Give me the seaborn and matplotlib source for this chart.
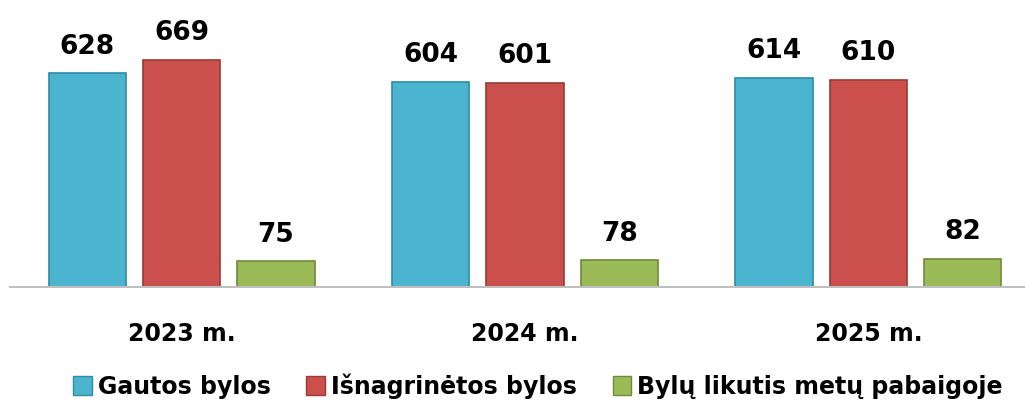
import pandas as pd
import matplotlib.pyplot as plt
import seaborn as sns

years = ['2023 m.', '2024 m.', '2025 m.']
series = ['Gautos bylos', 'Išnagrinėtos bylos', 'Bylų likutis metų pabaigoje']
gautos = [628, 604, 614]
isnagrinetos = [669, 601, 610]
likutis = [75, 78, 82]
colors = ['#4BB5CF', '#CB4F4B', '#9BBB59']
edges = ['#2E8BA5', '#963B38', '#6F8A3A']

df = pd.DataFrame({
    'year': years * 3,
    'series': [s for s in series for _ in years],
    'value': gautos + isnagrinetos + likutis,
})

sns.set_style('white')
plt.rcParams['font.family'] = ['DejaVu Sans']
plt.rcParams['text.color'] = 'black'
plt.rcParams['xtick.color'] = 'black'

fig = plt.figure(figsize=(10.25, 4.07), dpi=100)
ax = fig.add_axes([10 / 1025, 120 / 407, 1030 / 1025, 287 / 407])

sns.barplot(data=df, x='year', y='value', hue='series', hue_order=series,
            palette=colors, saturation=1, width=0.825, gap=0.18, ax=ax,
            legend=False)

for cont, ec in zip(ax.containers, edges):
    for bar in cont:
        bar.set_edgecolor(ec)
        bar.set_linewidth(1.2)
    ax.bar_label(cont, padding=10, fontsize=19, fontweight='bold')

ax.set_xlim(-0.5, 2.5)
ax.set_ylim(0, 844)
ax.set_xlabel('')
ax.set_ylabel('')
ax.set_yticks([])
ax.tick_params(axis='x', length=0, pad=25, labelsize=17)
for lbl in ax.get_xticklabels():
    lbl.set_fontweight('bold')
for side in ['top', 'right', 'left']:
    ax.spines[side].set_visible(False)
ax.spines['bottom'].set_color('#BFBFBF')
ax.spines['bottom'].set_linewidth(1.5)

handles = [plt.Rectangle((0, 0), 1, 1, facecolor=c, edgecolor=e)
           for c, e in zip(colors, edges)]
fig.legend(handles, series, loc='center', bbox_to_anchor=(0.525, 21 / 407),
           ncol=3, frameon=False, handlelength=0.8, handleheight=0.9,
           handletextpad=0.25, columnspacing=1.5,
           prop={'weight': 'bold', 'size': 17})

fig.savefig('out.png', dpi=100)
